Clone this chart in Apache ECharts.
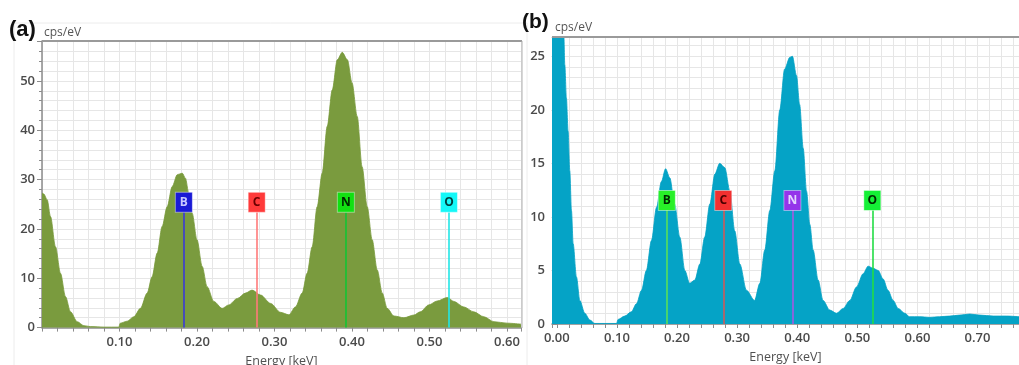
<!DOCTYPE html>
<html>
<head>
<meta charset="utf-8">
<script src="https://cdn.jsdelivr.net/npm/echarts@6/dist/echarts.min.js"></script>
<style>html,body{margin:0;padding:0;background:#fff;}#c{width:1019px;height:365px;}</style>
</head>
<body>
<div id="c"></div>
<script>
// Panel (a) spectrum
var energyA = [0, 0.0023, 0.0067, 0.011, 0.0174, 0.0239, 0.0303, 0.0368, 0.0454, 0.054, 0.0626, 0.08, 0.099, 0.101, 0.110, 0.1185, 0.127, 0.1357, 0.142, 0.1486, 0.155, 0.1615, 0.168, 0.1745, 0.181, 0.185, 0.1895, 0.1937, 0.2, 0.2067, 0.213, 0.2217, 0.2325, 0.241, 0.252, 0.2626, 0.271, 0.282, 0.295, 0.3077, 0.3185, 0.327, 0.3357, 0.342, 0.3486, 0.355, 0.3615, 0.368, 0.3745, 0.381, 0.3874, 0.394, 0.4, 0.4067, 0.413, 0.4196, 0.426, 0.4325, 0.439, 0.4454, 0.454, 0.467, 0.48, 0.488, 0.499, 0.51, 0.523, 0.5314, 0.544, 0.557, 0.570, 0.583, 0.600, 0.618];
var countsA = [27.3, 27.1, 25.9, 22.5, 16.4, 11, 6.3, 3.2, 1.2, 0.4, 0.2, 0.1, 0.1, 0.9, 1.3, 2.2, 3.9, 7, 10.3, 15.1, 20.5, 24.5, 28.6, 31, 31.3, 30.3, 27.2, 23.2, 17.8, 12.4, 8.3, 5.3, 3.9, 4.6, 5.9, 7, 7.6, 6.6, 4.9, 3.1, 2.6, 4.2, 7, 11, 16.4, 24.5, 31.3, 40.8, 48.2, 54.3, 55.8, 54.3, 49.6, 42.8, 32.6, 24.5, 17.8, 11.7, 7, 3.9, 2.35, 2.0, 2.55, 3.2, 4.6, 5.4, 6.1, 5.3, 4.2, 3.2, 2.2, 1.2, 0.9, 0.7];
// Panel (b) spectrum
var energyB = [-0.008, 0.0, 0.0117, 0.0133, 0.016, 0.0188, 0.0216, 0.0244, 0.0272, 0.0327, 0.0383, 0.0466, 0.055, 0.0632, 0.08, 0.0993, 0.102, 0.113, 0.124, 0.1326, 0.141, 0.149, 0.1575, 0.166, 0.174, 0.181, 0.188, 0.196, 0.2047, 0.213, 0.221, 0.2296, 0.238, 0.246, 0.2546, 0.263, 0.271, 0.2795, 0.288, 0.296, 0.3045, 0.3156, 0.329, 0.3378, 0.346, 0.3544, 0.3627, 0.371, 0.379, 0.3877, 0.392, 0.3988, 0.404, 0.41, 0.4155, 0.421, 0.4265, 0.4348, 0.443, 0.4542, 0.4654, 0.4764, 0.4875, 0.4987, 0.5097, 0.518, 0.5263, 0.5346, 0.543, 0.551, 0.5596, 0.568, 0.579, 0.587, 0.604, 0.62, 0.637, 0.654, 0.67, 0.687, 0.704, 0.726, 0.748, 0.769];
var countsB = [27, 27, 27, 24.2, 21.1, 18, 14.3, 10.6, 7.5, 4.4, 2.2, 1.0, 0.37, 0.05, 0.05, 0.05, 0.43, 0.74, 1.14, 1.9, 3.15, 5, 7.8, 10.9, 13.3, 14.5, 13.65, 11.2, 8.1, 5, 3.8, 4.1, 5.6, 8.1, 11.2, 14, 15.0, 14.6, 12.4, 8.7, 5.6, 3.15, 2.2, 3.8, 6.9, 10.6, 14.3, 20, 23.8, 24.9, 25.0, 23.2, 20.5, 16.4, 12.4, 9.3, 6.9, 4.1, 2.2, 1.3, 1.0, 1.45, 2.2, 3.46, 4.7, 5.4, 5.2, 5.0, 4.2, 3.15, 2.2, 1.45, 1.0, 0.68, 0.68, 0.62, 0.68, 0.74, 0.83, 0.93, 0.83, 0.74, 0.74, 0.68];
// Element lines
var elemNames = ['B', 'C', 'N', 'O'];
var elemEnergy = [0.183, 0.277, 0.392, 0.525];

// styles
var boxColA = ['#1a1ad6', '#ff3a3a', '#12e012', '#14f8f8'];
var txtColA = ['#c8c8ff', '#6a0000', '#002800', '#004040'];
var lineColA = ['#3a3ad8', '#ff7a7a', '#12c434', '#22e6e6'];
var boxColB = ['#28f028', '#f23030', '#9434ea', '#14f036'];
var txtColB = ['#002800', '#4a0000', '#e4d6ff', '#002800'];
var lineColB = ['#58e058', '#cc5a5a', '#a458e2', '#22dc44'];

var chart = echarts.init(document.getElementById('c'), null, {renderer: 'canvas'});
var FONT = 'Open Sans';
var gridCol = '#e6e6e6';
var axisCol = '#8c8c8c';

function pairs(xs, ys) { return xs.map(function (x, i) { return [x, ys[i]]; }); }

function xAxisCfg(idx, min, max, interval) {
  var o = {
    type: 'value', gridIndex: idx, min: min, max: max,
    axisLine: {show: true, lineStyle: {color: axisCol, width: 1.5}},
    axisTick: {show: true, length: 4, lineStyle: {color: axisCol}},
    minorTick: {show: true, splitNumber: 5, length: 4, lineStyle: {color: axisCol}},
    splitLine: {show: true, lineStyle: {color: gridCol, width: 1}},
    minorSplitLine: {show: true, lineStyle: {color: gridCol, width: 1}},
    axisLabel: {showMinLabel: false, showMaxLabel: false, color: '#4a4a4a', fontFamily: FONT, fontSize: 13, fontWeight: 600, margin: 8,
      formatter: function (v) { return (Math.abs(v) < 1e-9 ? 0 : v).toFixed(2); }},
    name: 'Energy [keV]', nameLocation: 'middle', nameGap: 27,
    nameTextStyle: {color: '#505050', fontFamily: FONT, fontSize: 12.5}
  };
  if (interval) o.interval = interval; else o.splitNumber = 8;
  return o;
}
function yAxisCfg(idx, max, interval) {
  return {
    type: 'value', gridIndex: idx, min: 0, max: max, interval: interval,
    axisLine: {show: true, lineStyle: {color: axisCol, width: 1.5}},
    axisTick: {show: true, length: 5, lineStyle: {color: axisCol}},
    minorTick: {show: true, splitNumber: 5, length: 3, lineStyle: {color: axisCol}},
    splitLine: {show: true, lineStyle: {color: gridCol, width: 1}},
    minorSplitLine: {show: true, lineStyle: {color: gridCol, width: 1}},
    axisLabel: {showMaxLabel: false, color: '#4a4a4a', fontFamily: FONT, fontSize: 13, fontWeight: 600, margin: 7}
  };
}
function elemSeries(idx, boxY, lineTop, boxCol, txtCol, lineCol) {
  return {
    type: 'scatter', xAxisIndex: idx, yAxisIndex: idx, z: 5,
    symbol: 'rect', symbolSize: [17, 20], silent: true,
    data: elemNames.map(function (n, i) {
      return {value: [elemEnergy[i], boxY], name: n,
        itemStyle: {color: boxCol[i], opacity: 1, borderColor: 'rgba(255,255,255,0.45)', borderWidth: 1},
        label: {show: true, position: 'inside', formatter: n, color: txtCol[i], fontFamily: FONT, fontSize: 12, fontWeight: 700}};
    }),
    markLine: {
      silent: true, symbol: ['none', 'none'], label: {show: false}, animation: false,
      data: elemNames.map(function (n, i) {
        return [{coord: [elemEnergy[i], 0], lineStyle: {color: lineCol[i], width: 1.6, type: 'solid', opacity: 1}},
                {coord: [elemEnergy[i], lineTop]}];
      })
    }
  };
}

var option = {
  animation: false,
  backgroundColor: '#ffffff',
  grid: [
    {left: 42, top: 41, width: 479, height: 286.6, show: false, containLabel: false, outerBoundsMode: 'none'},
    {left: 552, top: 37, width: 467, height: 287, show: false, containLabel: false, outerBoundsMode: 'none'}
  ],
  xAxis: [xAxisCfg(0, 0, 0.618, 0.1), xAxisCfg(1, -0.008, 0.769, null)],
  yAxis: [yAxisCfg(0, 58.1, 10), yAxisCfg(1, 26.8, 5)],
  series: [
    {type: 'line', xAxisIndex: 0, yAxisIndex: 0, data: pairs(energyA, countsA), showSymbol: false, smooth: 0.3, smoothMonotone: 'x',
      lineStyle: {color: '#77993a', width: 0.8}, areaStyle: {color: '#7a9b3e', opacity: 1}, z: 2, silent: true},
    {type: 'line', xAxisIndex: 1, yAxisIndex: 1, data: pairs(energyB, countsB), showSymbol: false, smooth: 0.3, smoothMonotone: 'x',
      lineStyle: {color: '#03a1c4', width: 0.8}, areaStyle: {color: '#05a3c6', opacity: 1}, z: 2, silent: true},
    elemSeries(0, 25.4, 23.4, boxColA, txtColA, lineColA),
    elemSeries(1, 11.54, 10.66, boxColB, txtColB, lineColB)
  ],
  graphic: [
    {type: 'rect', shape: {x: 14, y: 23, width: 513, height: 360}, style: {fill: 'none', stroke: '#ececec', lineWidth: 1}, z: -1},
    {type: 'line', shape: {x1: 42, y1: 41, x2: 522, y2: 41}, style: {stroke: '#9a9a9a', lineWidth: 2}, z: 10},
    {type: 'line', shape: {x1: 522, y1: 41, x2: 522, y2: 328}, style: {stroke: '#b0b0b0', lineWidth: 1}, z: 10},
    {type: 'line', shape: {x1: 552, y1: 37, x2: 1019, y2: 37}, style: {stroke: '#9a9a9a', lineWidth: 2}, z: 10},
    {type: 'text', left: 9, top: 19, style: {text: '(a)', font: 'bold 22px "Liberation Sans", Arial, sans-serif', fill: '#111'}},
    {type: 'text', left: 522, top: 12, style: {text: '(b)', font: 'bold 21px "Liberation Sans", Arial, sans-serif', fill: '#111'}},
    {type: 'text', left: 44, top: 27, style: {text: 'cps/eV', font: '12px "Open Sans", sans-serif', fill: '#555'}},
    {type: 'text', left: 555, top: 22, style: {text: 'cps/eV', font: '12px "Open Sans", sans-serif', fill: '#555'}}
  ]
};
chart.setOption(option);
</script>
</body>
</html>
